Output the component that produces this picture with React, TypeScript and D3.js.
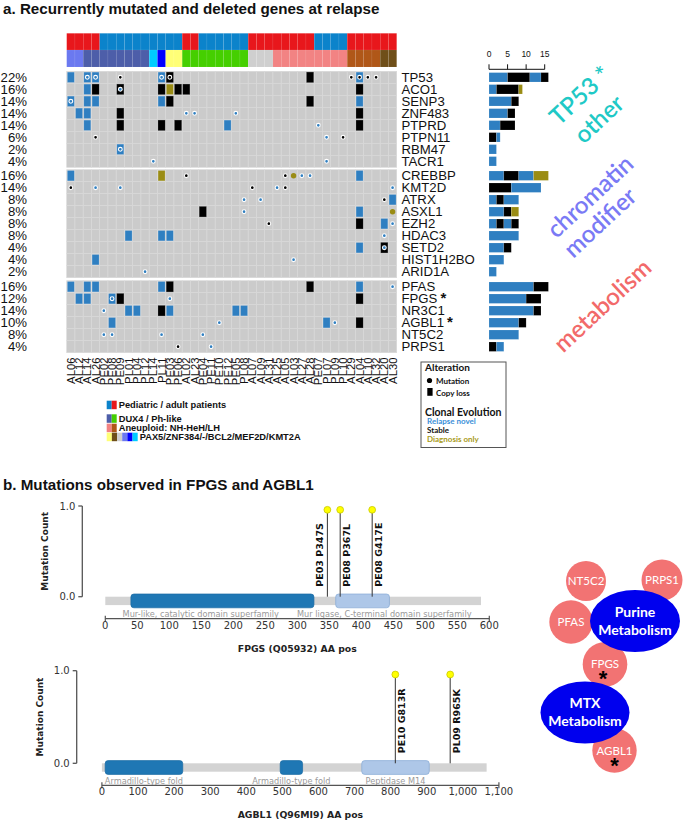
import React from "react";
import * as d3 from "d3";

// ---------------- DATA ----------------
const patients = [
  "AL06","AL12","AL14","AL26","PE02","PE08","PE09","PL01","PL04","PL12",
  "PL14","PL11","PE03","PE06","AL02","AL23","PE04","PE11","PE10","PE12",
  "PE05","PL08","AL07","AL09","AL31","AL25","AL05","AL03","AL27","AL28",
  "PE07","PL07","PL09","PL10","AL29","AL04","AL10","AL32","AL20","AL30"
];
const subtypes = [
  "BCL2","BCL2","DUX4","DUX4","DUX4","DUX4","DUX4","DUX4","DUX4","DUX4",
  "KMT2A","MEF2D","PAX5","PAX5","Ph-like","Ph-like","Ph-like","Ph-like","Ph-like","Ph-like",
  "Ph-like","Ph-like","-","-","-","NH-HeH","NH-HeH","NH-HeH","NH-HeH","NH-HeH",
  "NH-HeH","NH-HeH","NH-HeH","NH-HeH","LH","LH","LH","LH","ZNF384","ZNF384"
];
const subtypeNames = ["DUX4","Ph-like","NH-HeH","LH","PAX5","ZNF384","-","BCL2","MEF2D","KMT2A"];
const subtypeColors = ["#4d5ea9","#45cf00","#f28383","#b05718","#ffff77","#6f4f19","#cfcfcf","#6b79f0","#0000ff","#00ccff"];
const cohortNames = ["pediatric","adult"];
const cohortColors = ["#0b83cb","#e8171c"];

const tp53Genes = ["TP53","ACO1","SENP3","ZNF483","PTPRD","PTPN11","RBM47","TACR1"];
const tp53Pct = [22,16,14,14,14,6,2,4];
const chromatinGenes = ["CREBBP","KMT2D","ATRX","ASXL1","EZH2","HDAC3","SETD2","HIST1H2BO","ARID1A"];
const chromatinPct = [16,14,8,8,8,8,4,4,2];
const metabolismGenes = ["PFAS","FPGS","NR3C1","AGBL1","NT5C2","PRPS1"];
const metabolismPct = [16,12,14,10,8,4];
const starredGenes = ["FPGS","AGBL1"];

// column index + clonal status (N relapse novel, S stable, D diagnosis only)
const copyLossCalls: [string, string][] = [
  ["TP53","0N 2N 3N 11N 12S 29S 35N"],
  ["ACO1","2N 3S 6S 11S 12D 13S 14S 35S"],
  ["SENP3","0N 2N 3N 11N 12S 29S 35N"],
  ["ZNF483","1N 2N 6S 35S"],
  ["PTPRD","2N 6S 11S 13S 19N 35S"],
  ["RBM47","6N"],
  ["CREBBP","0N 11D 35N"],
  ["ATRX","39N"],
  ["ASXL1","16S 35N"],
  ["EZH2","35S 38N"],
  ["HDAC3","7N 11N 12N"],
  ["SETD2","35N 38S"],
  ["HIST1H2BO","3N"],
  ["PFAS","0N 2N 3N 11N 12S 29S 35N"],
  ["FPGS","1N 2N 5N 6S 35S"],
  ["NR3C1","7N 8N 11S 12N 20N 21N"],
  ["AGBL1","5N 31N 35S"]
];
const mutationCalls: [string, string][] = [
  ["TP53","2N 3N 6S 11N 12S 34S 35S 36S 37S"],
  ["ACO1","6N"],
  ["SENP3","0N"],
  ["ZNF483","14N 15N 20N"],
  ["PTPRD","30N"],
  ["PTPN11","3S 31N 33S"],
  ["RBM47","6N"],
  ["TACR1","10N 31N"],
  ["CREBBP","14S 26S 27D 28N 29N"],
  ["KMT2D","0S 3N 6N 22S 25N 26S 39N"],
  ["ATRX","21N 23N 38S"],
  ["ASXL1","21N 39D"],
  ["EZH2","24S 39N"],
  ["HDAC3","38N"],
  ["SETD2","38N"],
  ["HIST1H2BO","27N"],
  ["ARID1A","9N"],
  ["PFAS","39N"],
  ["FPGS","5N 12N"],
  ["NR3C1","4N"],
  ["AGBL1","18N 32N"],
  ["NT5C2","4N 5N 11N 16N"],
  ["PRPS1","13S 17N"]
];
// stacked alteration counts per gene (status + count)
const burdenSegments: [string, string][] = [
  ["TP53","N5 S6 N3 S2"], ["ACO1","N2 S6 D1"], ["SENP3","N6 S2"], ["ZNF483","N5 S2"],
  ["PTPRD","N3 S4"], ["PTPN11","S2 N1"], ["RBM47","N2"], ["TACR1","N2"],
  ["CREBBP","N4 S4 N4 D4"], ["KMT2D","S6 N8"], ["ATRX","N2 S2 N4"], ["ASXL1","N4 S2 D2"],
  ["EZH2","N2 S2 N2 S2"], ["HDAC3","N8"], ["SETD2","N4 S2"], ["HIST1H2BO","N4"], ["ARID1A","N2"],
  ["PFAS","N12 S4"], ["FPGS","N10 S4"], ["NR3C1","N12 S2"], ["AGBL1","N8 S2"], ["NT5C2","N8"], ["PRPS1","S2 N2"]
];
const burdenTicks = [0, 5, 10, 15];
const statusKeys = ["N","S","D"];
const statusColors = ["#2f7fc1","#000000","#9a8c14"];
const statusLabels = ["Relapse novel","Stable","Diagnosis only"];
const statusLegendColors = ["#3a8fd8","#111111","#a89b1a"];

const groupTitles = ["TP53 *", "other", "chromatin", "modifier", "metabolism"];
const groupColors = ["#1fc9c6","#1fc9c6","#7a7af5","#7a7af5","#f26a6a"];

// lollipops
const fpgsDomains: [string, number, number, string][] = [
  ["Mur-like, catalytic domain superfamily", 40, 326, "dark"],
  ["Mur ligase, C-terminal domain superfamily", 360, 444, "light"]
];
const fpgsMutations: [string, number][] = [["PE03 P347S", 347], ["PE08 P367L", 367], ["PE08 G417E", 417]];
const agbl1Domains: [string, number, number, string][] = [
  ["Armadillo-type fold", 9, 224, "dark"],
  ["Armadillo-type fold", 494, 556, "dark"],
  ["Peptidase M14", 720, 907, "light"]
];
const agbl1Mutations: [string, number][] = [["PE10 G813R", 813], ["PL09 R965K", 965]];

// network
const geneNodes = ["NT5C2","PRPS1","PFAS","FPGS","AGBL1"];
const pathwayNodes = ["Purine Metabolism","MTX Metabolism"];

// ---------------- HELPERS ----------------
const parseCalls = (rows: [string, string][]) =>
  rows.flatMap(([gene, s]) => s.split(" ").map(t => ({ gene, col: +t.slice(0, -1), status: t.slice(-1) })));
const parseSegs = (s: string) => s.split(" ").map(t => ({ status: t[0], n: +t.slice(1) }));

let _ctx: CanvasRenderingContext2D | null = null;
function measure(text: string, font: string) {
  if (!_ctx) _ctx = document.createElement("canvas").getContext("2d");
  if (!_ctx) return text.length * 5;
  _ctx.font = font;
  return _ctx.measureText(text).width;
}

const SANS = "'Liberation Sans', Arial, sans-serif";
const DEJA = "'DejaVu Sans', sans-serif";
const LATO = "Lato, 'Open Sans', sans-serif";

function Lollipop(props: {
  title: string; length: number; xMax: number; tickStep: number; fmt: (n: number) => string;
  xRange: [number, number]; yRange: [number, number]; yAxisX: number;
  domains: [string, number, number, string][]; muts: [string, number][];
}) {
  const { title, length, xMax, tickStep, fmt, xRange, yRange, yAxisX, domains, muts } = props;
  const x = d3.scaleLinear().domain([0, xMax]).range(xRange);
  const y = d3.scaleLinear().domain([0, 1]).range(yRange);
  const y0 = y(0), y1 = y(1);
  const bbY = y0 + 4.2;
  const axisY = y0 + 22;
  const ticks = d3.range(0, xMax + 1, tickStep);
  const lblFont = `8.2px 'DejaVu Sans'`;
  const placed = domains.map(d => ({ cx: x((d[1] + d[2]) / 2), w: measure(d[0], lblFont) }));
  for (let i = 1; i < placed.length; i++) {
    const a = placed[i - 1], b = placed[i];
    const ov = a.cx + a.w / 2 + 18 - (b.cx - b.w / 2);
    if (ov > 0) { a.cx -= ov / 2; b.cx += ov / 2; }
  }
  const domColor = d3.scaleOrdinal<string, string>().domain(["dark", "light"]).range(["#1f77b4", "#aec7e8"]);
  const domStroke = d3.scaleOrdinal<string, string>().domain(["dark", "light"]).range(["#1a6aa3", "#86abd6"]);
  return (
    <g fontFamily={DEJA}>
      <line x1={yAxisX} x2={yAxisX} y1={y0} y2={y1} stroke="#555" strokeWidth={1.3} />
      {[0, 1].map(v => (
        <g key={v}>
          <line x1={yAxisX - 4} x2={yAxisX} y1={y(v)} y2={y(v)} stroke="#555" strokeWidth={1.3} />
          <text x={yAxisX - 7} y={y(v)} dy="0.35em" textAnchor="end" fontSize={10} fill="#333">{v.toFixed(1)}</text>
        </g>
      ))}
      <text transform={`translate(${yAxisX - 37},${(y0 + y1) / 2}) rotate(-90)`} textAnchor="middle" dy="0.35em"
        fontSize={9} fontWeight="bold" fill="#222">Mutation Count</text>
      <rect x={x(0)} y={bbY - 4.2} width={x(length) - x(0)} height={8.4} fill="#d3d3d3" />
      {domains.map((d, i) => (
        <rect key={i} x={x(d[1])} y={bbY - 6.9} width={x(d[2]) - x(d[1])} height={13.8} rx={3} ry={3}
          fill={domColor(d[3])} stroke={domStroke(d[3])} strokeWidth={0.7} />
      ))}
      {domains.map((d, i) => (
        <text key={i} x={placed[i].cx} y={bbY + 13.2} dy="0.35em" textAnchor="middle" fontSize={8.2} fill="#9a9a9a">{d[0]}</text>
      ))}
      <line x1={x(0)} x2={x(xMax)} y1={axisY} y2={axisY} stroke="#555" strokeWidth={1.2} />
      <line x1={x(0)} x2={x(0)} y1={axisY - 3} y2={axisY + 3} stroke="#555" strokeWidth={1.2} />
      <line x1={x(xMax)} x2={x(xMax)} y1={axisY - 3} y2={axisY + 3} stroke="#555" strokeWidth={1.2} />
      {ticks.map(t => (
        <text key={t} x={x(t)} y={axisY + 10} textAnchor="middle" fontSize={10} fill="#333">{fmt(t)}</text>
      ))}
      <text x={(x(0) + x(xMax)) / 2} y={axisY + 33} textAnchor="middle" fontSize={9.3} fontWeight="bold" fill="#222">{title}</text>
      {muts.map((m, i) => {
        const xm = x(m[1]);
        const next = muts[i + 1];
        const left = next && x(next[1]) - xm < 20;
        const bx = left ? xm - 4.6 : xm + 9.8;
        return (
          <g key={i}>
            <line x1={xm} x2={xm} y1={y0} y2={y1 + 3.8} stroke="#333" strokeWidth={1} />
            <circle cx={xm} cy={y1 + 3.8} r={3.4} fill="#ffff00" stroke="#c9c900" strokeWidth={0.8} />
            <text transform={`translate(${bx},${y0 - 10}) rotate(-90)`} fontSize={9.5} fontWeight="bold" fill="#111">{m[0]}</text>
          </g>
        );
      })}
    </g>
  );
}

export default function App() {
  const gridLeft = 66.7, colW = 8.25, rowH = 12;
  const x = d3.scaleBand<string>().domain(patients).range([gridLeft, gridLeft + colW * patients.length]);
  const cohortColor = d3.scaleOrdinal<string, string>().domain(cohortNames).range(cohortColors);
  const subtypeColor = d3.scaleOrdinal<string, string>().domain(subtypeNames).range(subtypeColors);
  const statusColor = d3.scaleOrdinal<string, string>().domain(statusKeys).range(statusColors);
  const cohortOf = (p: string) => (p.startsWith("AL") ? "adult" : "pediatric");

  const sectionTops = [71.3, 169.7, 280.7];
  const sections = [
    { genes: tp53Genes, pct: tp53Pct },
    { genes: chromatinGenes, pct: chromatinPct },
    { genes: metabolismGenes, pct: metabolismPct },
  ];
  const rowScales = sections.map((s, i) =>
    d3.scaleBand<string>().domain(s.genes).range([sectionTops[i], sectionTops[i] + rowH * s.genes.length]));
  const rowTop = (g: string) => {
    for (const sc of rowScales) { const v = sc(g); if (v !== undefined) return v; }
    return 0;
  };
  const losses = parseCalls(copyLossCalls);
  const muts = parseCalls(mutationCalls);
  const barX = d3.scaleLinear().domain([0, 15]).range([489, 544.7]);

  const legendRows: { colors: string[]; text: string }[] = [
    { colors: [cohortColor("pediatric"), cohortColor("adult")], text: "Pediatric / adult patients" },
    { colors: [subtypeColor("DUX4"), subtypeColor("Ph-like")], text: "DUX4 / Ph-like" },
    { colors: [subtypeColor("NH-HeH"), subtypeColor("LH")], text: "Aneuploid: NH-HeH/LH" },
    { colors: ["PAX5", "ZNF384", "-", "BCL2", "MEF2D", "KMT2A"].map(s => subtypeColor(s)), text: "PAX5/ZNF384/-/BCL2/MEF2D/KMT2A" },
  ];
  const legendTops = [400.7, 414.3, 423.7, 432.7];

  const groupPos: [number, number][] = [[580, 95.5], [599, 119], [590, 196.5], [600, 222.5], [602.5, 305.5]];

  const nodePos: Record<string, [number, number, number]> = {
    NT5C2: [586, 581, 20], PRPS1: [662, 580, 20.5], PFAS: [571, 622, 21.7], FPGS: [605, 664.3, 22.3], AGBL1: [614.5, 750.5, 22.2],
  };
  const pathPos: Record<string, [number, number, number, number]> = {
    "Purine Metabolism": [635, 621, 45, 31], "MTX Metabolism": [585, 712.5, 44.5, 31],
  };

  return (
    <svg width={685} height={822} viewBox="0 0 685 822"
      style={{ position: "absolute", left: 0, top: 0, background: "#fff" }} fontFamily={SANS}>
      <rect width={685} height={822} fill="#fff" />
      <text x={3} y={13.5} fontSize={15.2} fontWeight="bold" fill="#111">a. Recurrently mutated and deleted genes at relapse</text>

      {patients.map((p, i) => (
        <g key={p}>
          <rect x={x(p)} y={33.3} width={colW} height={16.7} fill={cohortColor(cohortOf(p))} stroke="#ffffff" strokeOpacity={0.12} strokeWidth={0.5} />
          <rect x={x(p)} y={50} width={colW} height={17} fill={subtypeColor(subtypes[i])} stroke="#ffffff" strokeOpacity={0.12} strokeWidth={0.5} />
        </g>
      ))}

      {sections.map((s, si) => (
        <g key={si}>
          {s.genes.map(g => patients.map(p => (
            <rect key={g + p} x={x(p)} y={rowTop(g)} width={colW} height={rowH} fill="#cbcbcb" stroke="#d9d9d9" strokeWidth={0.6} />
          )))}
          {s.genes.map((g, gi) => (
            <g key={g}>
              <text x={27} y={rowTop(g) + rowH / 2} dy="0.36em" textAnchor="end" fontSize={13.2} fill="#111">{s.pct[gi]}%</text>
              <text x={401.5} y={rowTop(g) + rowH / 2} dy="0.36em" fontSize={13.2} fill="#111">
                {g}
                {starredGenes.includes(g) ? <tspan fontWeight="bold" fontSize={15} dx={3}>*</tspan> : null}
              </text>
            </g>
          ))}
        </g>
      ))}
      {losses.map((l, i) => (
        <rect key={"l" + i} x={x(patients[l.col])! + 0.6} y={rowTop(l.gene) + 0.8} width={colW - 1.2} height={rowH - 1.6}
          fill={statusColor(l.status)} stroke={l.status === "S" ? "#555" : "#ffffff"} strokeOpacity={0.35} strokeWidth={0.6} />
      ))}
      {muts.map((m, i) => (
        <circle key={"m" + i} cx={x(patients[m.col])! + colW / 2} cy={rowTop(m.gene) + rowH / 2}
          r={m.status === "D" ? 2.7 : 1.9} fill={statusColor(m.status)}
          stroke={m.status === "D" ? "none" : "#ffffff"} strokeWidth={1.1} />
      ))}

      {patients.map(p => (
        <text key={p} transform={`translate(${x(p)! + colW / 2},${357.5}) rotate(-90)`} textAnchor="end" dy="0.36em"
          fontSize={11.3} fill="#111">{p}</text>
      ))}

      <line x1={barX(0)} x2={barX(15)} y1={69.3} y2={69.3} stroke="#111" strokeWidth={1} />
      {burdenTicks.map(t => (
        <g key={t}>
          <line x1={barX(t)} x2={barX(t)} y1={64.3} y2={69.3} stroke="#111" strokeWidth={1} />
          <text x={barX(t)} y={57.3} textAnchor="middle" fontSize={8.5} fill="#111">{t}</text>
        </g>
      ))}
      {burdenSegments.map(([g, s]) => {
        let acc = 0;
        const cy = rowTop(g) + rowH / 2;
        return parseSegs(s).map((seg, k) => {
          const x0 = barX(acc); acc += seg.n;
          return <rect key={g + k} x={x0} y={cy - 4.7} width={barX(acc) - x0} height={9.4} fill={statusColor(seg.status)}
            stroke="#ffffff" strokeOpacity={0.25} strokeWidth={0.5} />;
        });
      })}

      {groupTitles.map((t, i) => (
        <text key={t} transform={`translate(${groupPos[i][0]},${groupPos[i][1]}) rotate(-43)`} textAnchor="middle"
          dy="0.35em" fontFamily={LATO} fontSize={24} fontWeight={600} fill={groupColors[i]}>{t}</text>
      ))}

      {legendRows.map((r, i) => {
        const sw = r.colors.length > 2 ? 31 / r.colors.length : 5;
        return (
          <g key={i}>
            {r.colors.map((c, k) => (
              <rect key={k} x={106.7 + k * sw} y={legendTops[i]} width={sw} height={8.5} fill={c} />
            ))}
            <text x={106.7 + sw * r.colors.length + 2} y={legendTops[i] + 7.6} fontSize={9.3} fontWeight="bold" fill="#111">{r.text}</text>
          </g>
        );
      })}

      <g fontFamily={LATO}>
        <rect x={421} y={362} width={85} height={85.5} fill="#fff" stroke="#555" strokeWidth={1} />
        <text x={425} y={371} fontSize={10} fontWeight="bold" fill="#111">Alteration</text>
        <circle cx={429.5} cy={380.5} r={2.6} fill="#000" />
        <text x={436} y={383.5} fontSize={8} fontWeight="bold" fill="#111">Mutation</text>
        <rect x={427.3} y={388} width={5.3} height={7.8} fill="#000" />
        <text x={436} y={395.5} fontSize={8} fontWeight="bold" fill="#111">Copy loss</text>
        <text x={425} y={415.5} fontSize={10.5} fontWeight="bold" fill="#111">Clonal Evolution</text>
        {statusLabels.map((t, i) => (
          <text key={t} x={427} y={424 + i * 9.2} fontSize={8} fontWeight="bold" fill={statusLegendColors[i]}>{t}</text>
        ))}
      </g>

      <text x={3} y={489.5} fontSize={15.2} fontWeight="bold" fill="#111">b. Mutations observed in FPGS and AGBL1</text>

      <Lollipop title="FPGS (Q05932) AA pos" length={587} xMax={600} tickStep={50} fmt={d3.format("d")}
        xRange={[105.3, 489.3]} yRange={[596.7, 506]} yAxisX={82.3} domains={fpgsDomains} muts={fpgsMutations} />
      <Lollipop title="AGBL1 (Q96MI9) AA pos" length={1066} xMax={1100} tickStep={100} fmt={d3.format(",")}
        xRange={[101.9, 498.9]} yRange={[763.3, 670.7]} yAxisX={76.7} domains={agbl1Domains} muts={agbl1Mutations} />

      <g fontFamily={LATO}>
        {geneNodes.map(n => (
          <circle key={n} cx={nodePos[n][0]} cy={nodePos[n][1]} r={nodePos[n][2]} fill="#f27373" />
        ))}
        {geneNodes.map(n => (
          <g key={n + "t"}>
            <text x={nodePos[n][0]} y={nodePos[n][1]} dy="0.35em" textAnchor="middle" fontSize={11.5} fill="#fff">{n}</text>
            {starredGenes.includes(n) ? (
              <text x={nodePos[n][0] - (n === "FPGS" ? 2 : 0)} y={nodePos[n][1] + 22} textAnchor="middle" fontSize={22} fontWeight="bold" fill="#000" fontFamily={SANS}>*</text>
            ) : null}
          </g>
        ))}
        {pathwayNodes.map(n => {
          const [cx, cy, rx, ry] = pathPos[n];
          const [w1, w2] = n.split(" ");
          return (
            <g key={n}>
              <ellipse cx={cx} cy={cy} rx={rx} ry={ry} fill="#0000ee" />
              <text x={cx} y={cy - 9} dy="0.35em" textAnchor="middle" fontSize={14} fontWeight="bold" fill="#fff">{w1}</text>
              <text x={cx} y={cy + 9} dy="0.35em" textAnchor="middle" fontSize={14} fontWeight="bold" fill="#fff">{w2}</text>
            </g>
          );
        })}
      </g>
    </svg>
  );
}
